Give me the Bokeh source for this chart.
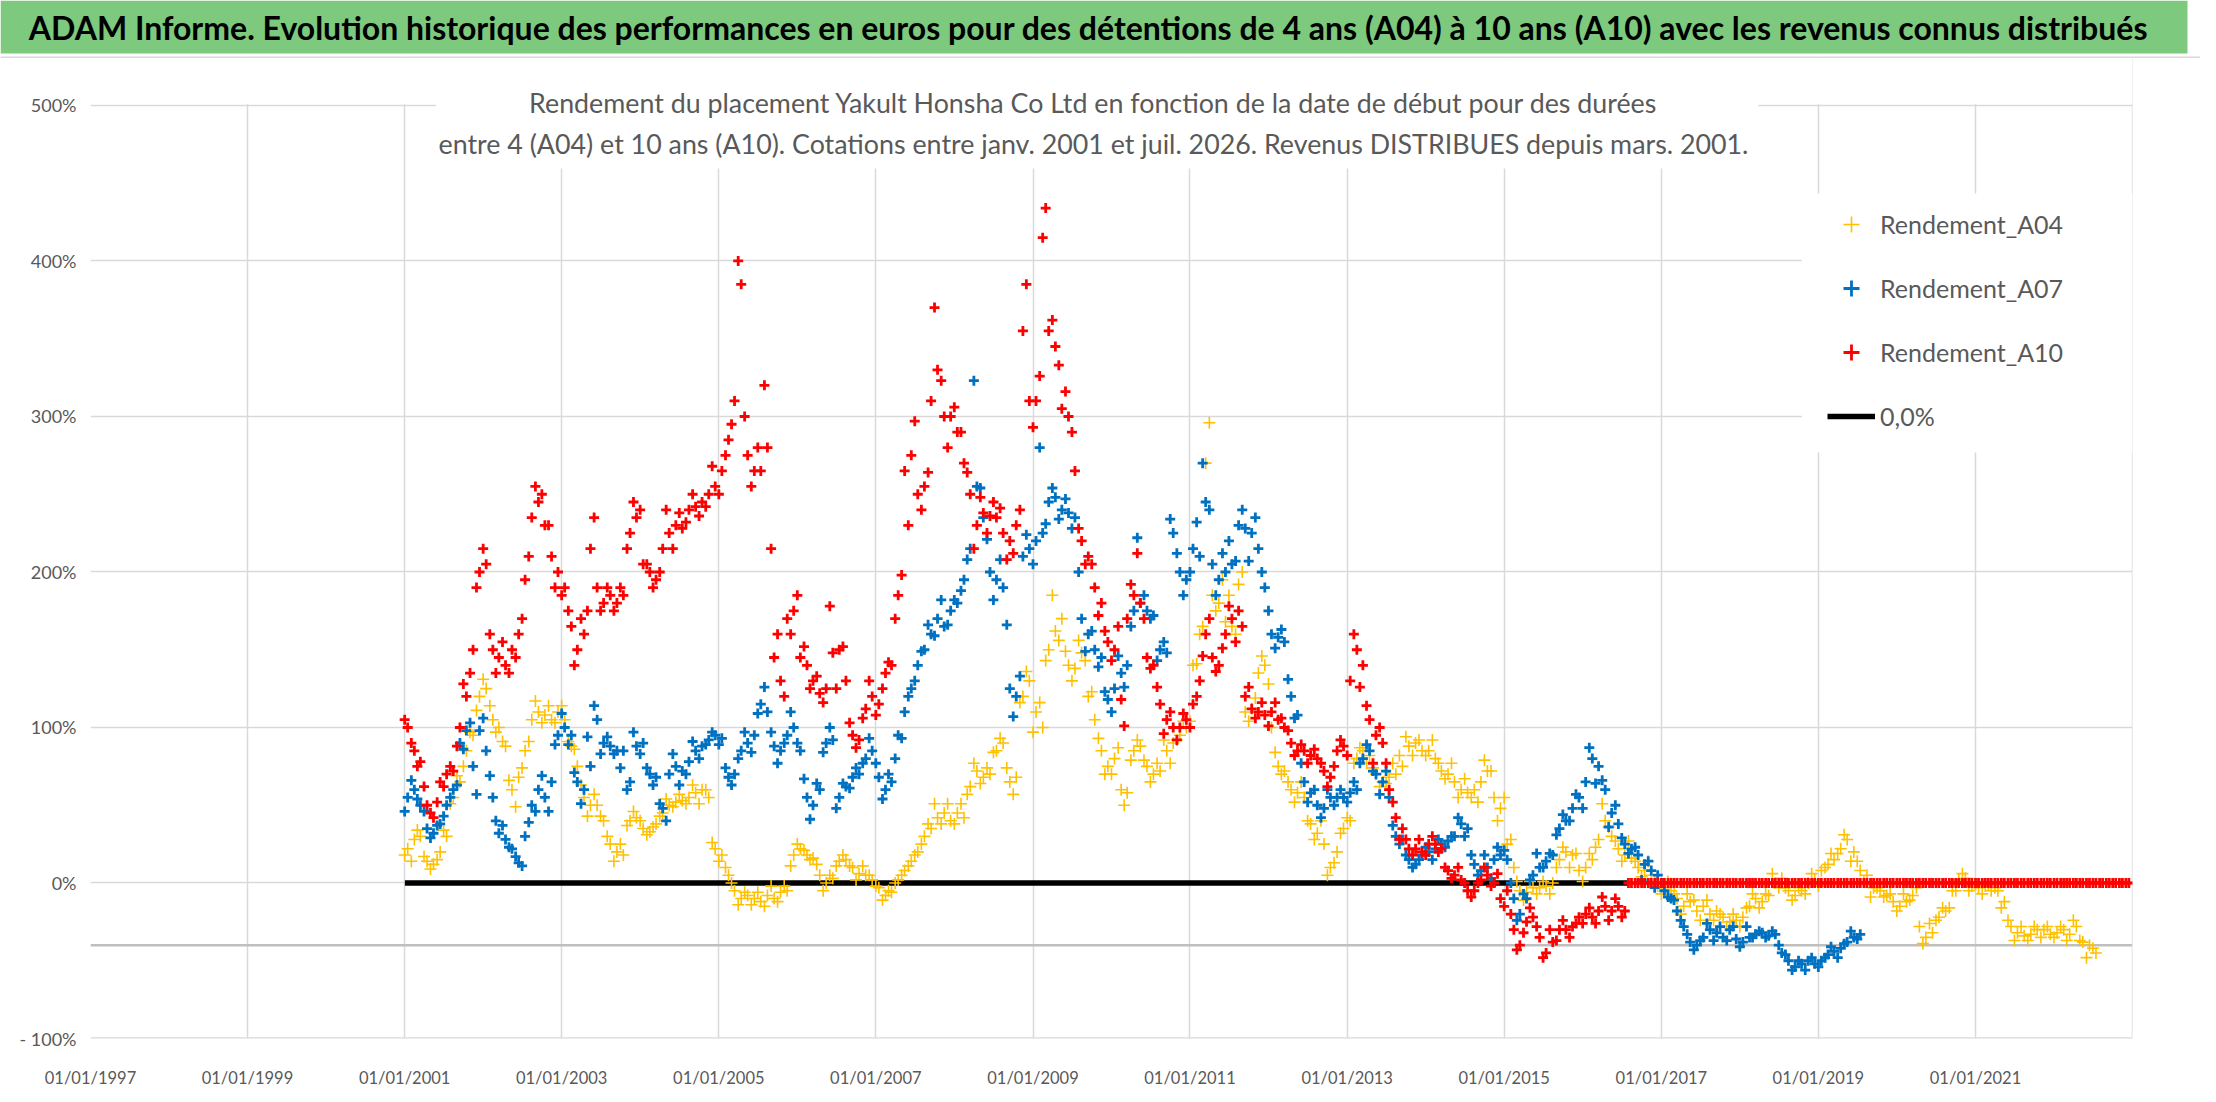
import pandas as pd
from bokeh.plotting import figure
from bokeh.models import (FixedTicker, DatetimeTickFormatter, CustomJSTickFormatter,
                          BoxAnnotation, Span, Label, Legend, LegendItem, Range1d,
                          ColumnDataSource)
from bokeh.layouts import column
from bokeh.embed import file_html
from bokeh.resources import INLINE

# ---------------- texts ----------------
TITLE = ("ADAM Informe. Evolution historique des performances en euros pour des "
         "détentions de 4 ans (A04) à 10 ans (A10) avec les revenus connus distribués")
SUBTITLE_1 = ("Rendement du placement Yakult Honsha Co Ltd en fonction de la date de "
              "début pour des durées")
SUBTITLE_2 = ("entre 4 (A04) et 10 ans (A10). Cotations entre janv. 2001 et juil. 2026. "
              "Revenus DISTRIBUES depuis mars. 2001.")
series_names = ["Rendement_A04", "Rendement_A07", "Rendement_A10"]
zero_label = "0,0%"

# ---------------- data (%) ----------------
# two readings per month: around the 15th (a..) and around the 1st (a.._b)
start_month = "2001-01-01"

a04 = [
    22, 28, 30, 14, 12, 20, 30, 55, 65, 85, 95, 120,          # 2001
    125, 105, 100, 88, 60, 68, 85, 105, 110, 108, 105, 110,   # 2002
    105, 88, 75, 55, 50, 50, 40, 25, 20, 18, 40, 42,          # 2003
    35, 33, 38, 45, 50, 52, 53, 55, 58, 60, 55, 22,           # 2004
    18, 5, -5, -10, -8, -10, -12, -8, -10, -6, -5, 18,        # 2005
    22, 18, 16, 5, 0, 3, 14, 15, 10, 6, 5, 2,                 # 2006
    -3, -8, -6, 2, 8, 14, 20, 30, 35, 42, 45, 40,             # 2007
    45, 42, 62, 72, 68, 70, 85, 90, 65, 68, 120, 130,         # 2008
    110, 100, 150, 162, 170, 140, 138, 148, 120, 105, 85, 75, # 2009
    80, 60, 58, 85, 88, 75, 70, 72, 85, 90, 95, 100,          # 2010
    140, 160, 270, 185, 180, 168, 165, 192, 110, 112, 135, 140,  # 2011
    100, 75, 72, 60, 58, 55, 38, 32, 25, 10, 20, 35,          # 2012
    40, 80, 85, 82, 70, 65, 68, 70, 75, 88, 90, 85,           # 2013
    85, 80, 72, 70, 65, 60, 58, 60, 65, 72, 55, 48,           # 2014
    25, 10, -5, -6, -3, -3, -2, 0, 15, 20, 18, 8,             # 2015
    10, 15, 28, 40, 30, 22, 18, 16, 10, 8, 5, -2,             # 2016
    -3, -5, -10, -15, -12, -18, -15, -20, -18, -22, -25, -24, # 2017
    -22, -15, -10, -12, -8, 0, 3, -5, -8, -5, 0, 2,           # 2018
    8, 12, 15, 22, 28, 20, 8, 5, -3, -5, -8, -12,             # 2019
    -15, -12, -8, -28, -35, -32, -22, -18, -5, 2, 3, -2,      # 2020
    -3, -2, -5, -5, -12, -28, -32, -34, -33, -30, -30, -33,   # 2021
    -32, -30, -33, -28, -38, -40, -45,                        # 2022
]
a04_b = [
    18, 14, 34, 17, 9, 15, 34, 51, 69, 75, 97, 111,           # 2001
    131, 114, 97, 91, 66, 49, 74, 91, 117, 103, 114, 103,     # 2002
    114, 91, 86, 63, 43, 57, 43, 30, 14, 25, 37, 46,          # 2003
    40, 31, 36, 43, 54, 49, 57, 51, 63, 51, 60, 26,           # 2004
    14, 10, 0, -14, -6, -14, -6, -15, -2, -12, -2, 11,        # 2005
    25, 21, 15, 12, -5, 5, 11, 18, 11, 2, 11, 5,              # 2006
    -2, -11, -5, 0, 5, 11, 18, 25, 38, 51, 38, 51,            # 2007
    38, 51, 57, 77, 64, 74, 84, 93, 74, 57, 116, 136,         # 2008
    97, 116, 143, 185, 156, 149, 130, 156, 143, 123, 93, 70,  # 2009
    70, 87, 50, 79, 92, 79, 65, 77, 92, 77, 92, 104,          # 2010
    104, 141, 165, 296, 175, 195, 185, 160, 200, 104, 119, 146,  # 2011
    128, 84, 70, 65, 52, 65, 40, 28, 40, 5, 13, 32,           # 2012
    42, 77, 87, 77, 74, 62, 64, 77, 82, 94, 82, 92,           # 2013
    82, 92, 77, 67, 77, 55, 67, 55, 52, 79, 72, 40,           # 2014
    55, 28, 1, -11, 1, -7, 1, -7, 10, 23, 10, 19,             # 2015
    1, 19, 23, 51, 36, 27, 14, 27, 14, 4, 14, 1,              # 2016
    -7, 1, -7, -20, -7, -11, -24, -11, -24, -20, -28, -20,    # 2017
    -28, -16, -7, -16, -7, 6, -3, -3, -11, -3, -7, 6,         # 2018
    -2, 10, 19, 19, 31, 14, 14, 1, -9, -3, -9, -7,            # 2019
    -18, -7, -11, -3, -39, -26, -24, -16, -16, -5, 6, -5,     # 2020
    -1, -7, -1, -3, -16, -24, -37, -28, -37, -28, -35, -28,   # 2021
    -35, -28, -37, -24, -37, -48, -42,                        # 2022
]

a07 = [
    55, 60, 50, 35, 32, 38, 50, 60, 90, 98, 75, 98,           # 2001
    85, 55, 32, 28, 22, 13, 30, 50, 60, 55, 65, 95,           # 2002
    100, 95, 65, 60, 75, 105, 90, 88, 85, 85, 65, 88,         # 2003
    90, 70, 68, 48, 70, 75, 72, 78, 85, 88, 92, 95,           # 2004
    93, 68, 70, 85, 90, 95, 115, 110, 88, 85, 95, 100,        # 2005
    85, 55, 50, 60, 90, 92, 55, 62, 68, 70, 80, 85,           # 2006
    68, 60, 65, 95, 110, 125, 140, 150, 160, 170, 165, 175,   # 2007
    180, 195, 215, 255, 235, 200, 195, 190, 125, 120, 210, 215,  # 2008
    220, 225, 245, 248, 240, 238, 235, 170, 160, 150, 145, 118,  # 2009
    125, 135, 140, 175, 180, 175, 172, 150, 148, 225, 200, 195,  # 2010
    215, 210, 245, 205, 195, 200, 205, 230, 228, 225, 215, 190,  # 2011
    160, 158, 155, 120, 108, 65, 58, 50, 48, 55, 55, 55,      # 2012
    58, 60, 80, 85, 70, 65, 55, 30, 28, 15, 12, 18,           # 2013
    20, 22, 25, 27, 30, 38, 35, 12, 8, 10, 15, 18,            # 2014
    15, -10, -20, -10, 5, 10, 14, 18, 35, 40, 48, 55,         # 2015
    65, 80, 75, 60, 45, 38, 25, 22, 18, 12, 8, 5,             # 2016
    -5, -10, -18, -28, -38, -40, -35, -30, -32, -35, -30, -36,  # 2017
    -38, -35, -33, -32, -34, -33, -45, -50, -54, -52, -50, -52, # 2018
    -50, -46, -44, -42, -38, -35, -33,                        # 2019
]
a07_b = [
    46, 66, 54, 46, 29, 37, 43, 55, 63, 86, 103, 57,          # 2001
    106, 69, 40, 37, 23, 17, 11, 39, 46, 69, 46, 89,          # 2002
    109, 89, 71, 51, 94, 114, 83, 94, 83, 74, 60, 97,         # 2003
    83, 74, 63, 51, 40, 83, 63, 70, 91, 80, 89, 97,           # 2004
    89, 74, 63, 80, 97, 84, 109, 126, 97, 77, 90, 110,        # 2005
    90, 67, 41, 64, 84, 100, 48, 64, 61, 74, 77, 93,          # 2006
    77, 54, 70, 80, 93, 120, 130, 149, 166, 159, 182, 166,    # 2007
    182, 188, 208, 323, 254, 221, 182, 208, 166, 107, 133, 224,  # 2008
    205, 280, 231, 254, 234, 247, 228, 200, 149, 162, 139, 123,  # 2009
    110, 146, 126, 165, 222, 185, 170, 143, 155, 234, 212, 185,  # 2010
    200, 232, 270, 240, 185, 212, 220, 207, 240, 207, 235, 200,  # 2011
    175, 151, 163, 131, 106, 77, 52, 60, 42, 60, 50, 60,      # 2012
    52, 65, 77, 89, 72, 57, 72, 37, 25, 18, 10, 15,           # 2013
    23, 15, 28, 23, 30, 42, 30, 18, 5, 18, 3, 23,             # 2014
    21, 0, -24, -7, 2, 19, 10, 19, 31, 44, 40, 57,            # 2015
    48, 87, 64, 66, 36, 50, 29, 19, 23, 2, 14, -3,            # 2016
    0, -9, -11, -24, -33, -43, -37, -26, -37, -28, -37, -28,  # 2017
    -41, -28, -35, -31, -35, -31, -40, -46, -56, -50, -56, -48, # 2018
    -54, -48, -41, -48, -39, -31, -36,                        # 2019
]

a10 = [
    100, 85, 78, 50, 42, 65, 70, 72, 100, 120, 150, 200,      # 2001
    205, 150, 145, 140, 150, 160, 195, 235, 245, 230, 210, 200,  # 2002
    190, 165, 150, 160, 215, 190, 180, 185, 180, 185, 225, 235,  # 2003
    205, 200, 195, 215, 225, 230, 228, 240, 242, 245, 250, 255,  # 2004
    265, 285, 310, 385, 275, 265, 265, 280, 145, 130, 170, 175,  # 2005
    145, 140, 130, 122, 125, 148, 150, 130, 95, 92, 112, 120,    # 2006
    115, 135, 140, 185, 265, 275, 250, 255, 310, 330, 300, 300,  # 2007
    290, 270, 250, 230, 238, 236, 235, 225, 220, 230, 355, 310,  # 2008
    310, 415, 355, 345, 305, 300, 265, 220, 210, 190, 180, 155,  # 2009
    150, 118, 170, 185, 180, 145, 140, 115, 105, 100, 100, 105,  # 2010
    115, 130, 160, 145, 140, 160, 170, 175, 120, 112, 110, 108,  # 2011
    110, 105, 100, 90, 85, 85, 82, 80, 72, 68, 85, 88,        # 2012
    130, 150, 140, 105, 95, 90, 60, 42, 35, 22, 22, 20,       # 2013
    25, 25, 22, 8, 5, 2, -5, -5, 2, 5, 0, -10,                # 2014
    -5, -30, -40, -25, -22, -35, -45, -38, -30, -30, -28, -22,  # 2015
    -20, -22, -18, -15, -18, -15, -18,                        # 2016 (to July)
    # values shown at 0 after the end of the 10-year window
    0, 0, 0, 0, 0,                                            # 2016 Aug-Dec
    0, 0, 0, 0, 0, 0, 0, 0, 0, 0, 0, 0,                       # 2017
    0, 0, 0, 0, 0, 0, 0, 0, 0, 0, 0, 0,                       # 2018
    0, 0, 0, 0, 0, 0, 0, 0, 0, 0, 0, 0,                       # 2019
    0, 0, 0, 0, 0, 0, 0, 0, 0, 0, 0, 0,                       # 2020
    0, 0, 0, 0, 0, 0, 0, 0, 0, 0, 0, 0,                       # 2021
    0, 0, 0, 0, 0, 0, 0, 0, 0, 0, 0, 0,                       # 2022
]
a10_b = [
    105, 90, 75, 62, 45, 52, 62, 75, 88, 128, 135, 190,       # 2001
    215, 160, 135, 155, 135, 145, 170, 210, 255, 250, 230, 190,  # 2002
    185, 175, 140, 170, 175, 235, 175, 190, 175, 190, 215, 245,  # 2003
    240, 205, 190, 200, 240, 215, 238, 232, 250, 236, 242, 268,  # 2004
    250, 275, 295, 400, 300, 255, 280, 320, 215, 160, 120, 160,  # 2005
    185, 152, 125, 133, 116, 178, 125, 152, 103, 87, 106, 130,   # 2006
    108, 125, 142, 170, 198, 230, 297, 240, 264, 370, 323, 280,  # 2007
    306, 290, 264, 215, 248, 225, 245, 241, 208, 212, 240, 385,  # 2008
    293, 326, 434, 362, 333, 316, 290, 228, 205, 205, 172, 162,  # 2009
    143, 165, 101, 192, 212, 170, 138, 126, 96, 110, 92, 109,    # 2010
    100, 120, 146, 170, 136, 151, 178, 155, 165, 126, 106, 116,  # 2011
    101, 116, 106, 98, 82, 89, 77, 86, 77, 62, 75, 92,        # 2012
    82, 160, 126, 114, 77, 100, 77, 52, 28, 28, 18, 28,       # 2013
    18, 30, 20, 10, 3, 10, 0, -9, 0, 10, -2, 6,               # 2014
    -15, -20, -43, -32, -16, -28, -48, -30, -37, -24, -35, -26,  # 2015
    -26, -16, -26, -9, -24, -10, -22,                         # 2016 (to July)
    0, 0, 0, 0, 0,                                            # 2016 Aug-Dec
    0, 0, 0, 0, 0, 0, 0, 0, 0, 0, 0, 0,                       # 2017
    0, 0, 0, 0, 0, 0, 0, 0, 0, 0, 0, 0,                       # 2018
    0, 0, 0, 0, 0, 0, 0, 0, 0, 0, 0, 0,                       # 2019
    0, 0, 0, 0, 0, 0, 0, 0, 0, 0, 0, 0,                       # 2020
    0, 0, 0, 0, 0, 0, 0, 0, 0, 0, 0, 0,                       # 2021
    0, 0, 0, 0, 0, 0, 0, 0, 0, 0, 0, 0,                       # 2022
]

zero_line_dates = ["2001-01-02", "2016-07-31"]
zero_line_values = [0.0, 0.0]

y_ticks = [-100, 0, 100, 200, 300, 400, 500]
x_tick_years = [1997, 1999, 2001, 2003, 2005, 2007, 2009, 2011, 2013, 2015, 2017, 2019, 2021]

colors = {"a04": "#FFC000", "a07": "#0070C0", "a10": "#FF0000"}
FONT = "Lato"
GREY_TXT = "#595959"


def ms(s):
    return pd.Timestamp(s).value / 1e6


def two_per_month(mid_values, start_values):
    months = pd.date_range(start_month, periods=len(mid_values), freq="MS")
    mids = months + pd.Timedelta(days=14)
    starts = pd.date_range(start_month, periods=len(start_values), freq="MS")
    return ColumnDataSource(dict(x=list(mids) + list(starts),
                                 y=list(mid_values) + list(start_values)))


def no_align(fig):
    try:
        fig.frame_align = False
    except Exception:
        pass


# ---------------- header (green title bar) ----------------
header = figure(width=2200, height=58, x_range=Range1d(0, 2200), y_range=Range1d(0, 58),
                toolbar_location=None, output_backend="svg", min_border=0,
                x_axis_location=None, y_axis_location=None)
no_align(header)
header.outline_line_color = None
header.xgrid.visible = False
header.ygrid.visible = False
header.add_layout(BoxAnnotation(left=0, right=2187, bottom=5, top=58,
                                fill_color="#7DC97D", fill_alpha=1, line_color=None))
header.add_layout(BoxAnnotation(left=0, right=2200, bottom=0.5, top=2,
                                fill_color="#D9D9D9", fill_alpha=1, line_color=None))
header.add_layout(Label(x=1088, y=31, x_units="screen", y_units="screen", text=TITLE,
                        text_align="center", text_baseline="middle", text_font=FONT,
                        text_font_style="bold", text_font_size="32px", text_color="black"))

# ---------------- main chart ----------------
p = figure(width=2200, height=1036, x_axis_type="datetime",
           x_range=Range1d(ms("1997-01-01"), ms("2023-01-01")),
           y_range=Range1d(-100, 530.2),
           toolbar_location=None, output_backend="svg",
           min_border_left=90, min_border_right=68, min_border_top=0, min_border_bottom=56)
no_align(p)
p.outline_line_color = None
p.background_fill_color = "white"

xticks = [ms(f"{y}-01-01") for y in x_tick_years]
p.xaxis.ticker = FixedTicker(ticks=xticks, minor_ticks=[])
p.xgrid.ticker = FixedTicker(ticks=xticks, minor_ticks=[])
fmt = "%d/%m/%Y"
p.xaxis.formatter = DatetimeTickFormatter(years=fmt, months=fmt, days=fmt, hours=fmt,
                                          minutes=fmt, seconds=fmt, milliseconds=fmt,
                                          microseconds=fmt, hourmin=fmt, minsec=fmt)
p.yaxis.ticker = FixedTicker(ticks=y_ticks, minor_ticks=[])
p.ygrid.ticker = FixedTicker(ticks=y_ticks, minor_ticks=[])
p.yaxis.formatter = CustomJSTickFormatter(
    code="return tick < 0 ? '- ' + Math.abs(tick) + '%' : tick + '%';")

for ax in (p.xaxis, p.yaxis):
    ax.axis_line_color = None
    ax.major_tick_line_color = None
    ax.minor_tick_line_color = None
    ax.major_tick_out = 0
    ax.major_tick_in = 0
    ax.major_label_text_font = FONT
    ax.major_label_text_color = GREY_TXT
p.xaxis.major_label_text_font_size = "16.5px"
p.yaxis.major_label_text_font_size = "18px"
p.xaxis.major_label_standoff = 29
p.yaxis.major_label_standoff = 14

for g in (p.xgrid, p.ygrid):
    g.grid_line_color = "#D9D9D9"
    g.grid_line_width = 1.5

# extra axis/edge lines
p.add_layout(Span(location=-40, dimension="width", line_color="#BFBFBF",
                  line_width=2.5, level="underlay"))
p.add_layout(Span(location=-100, dimension="width", line_color="#D9D9D9",
                  line_width=2.5, level="underlay"))
p.add_layout(Span(location=ms("2023-01-01"), dimension="height", line_color="#D9D9D9",
                  line_width=1.5, level="underlay"))

# data
r_zero = p.line(x=pd.to_datetime(zero_line_dates), y=zero_line_values,
                line_color="black", line_width=5.5)
r04 = p.scatter("x", "y", source=two_per_month(a04, a04_b), marker="cross", size=12,
                line_color=colors["a04"], line_width=1.6)
r07 = p.scatter("x", "y", source=two_per_month(a07, a07_b), marker="cross", size=10,
                line_color=colors["a07"], line_width=2.8)
r10 = p.scatter("x", "y", source=two_per_month(a10, a10_b), marker="cross", size=10,
                line_color=colors["a10"], line_width=2.8)

# white areas behind the chart title and legend
white = dict(fill_color="white", fill_alpha=1, line_color=None)
p.add_layout(BoxAnnotation(bottom=500.8, **white))
p.add_layout(BoxAnnotation(left=ms("2001-05-26"), right=ms("2018-03-28"), bottom=459.5, **white))
p.add_layout(BoxAnnotation(left=ms("2018-10-16"), bottom=276.8, top=443.4, **white))

# chart title (two lines)
for txt, yy in ((SUBTITLE_1, 936), (SUBTITLE_2, 895)):
    p.add_layout(Label(x=1003, y=yy, x_units="screen", y_units="screen", text=txt,
                       text_align="center", text_baseline="middle", text_font=FONT,
                       text_font_size="26.8px", text_color=GREY_TXT))

legend = Legend(items=[LegendItem(label=series_names[0], renderers=[r04]),
                       LegendItem(label=series_names[1], renderers=[r07]),
                       LegendItem(label=series_names[2], renderers=[r10]),
                       LegendItem(label=zero_label, renderers=[r_zero])],
                location=(1737, 602))
legend.label_text_font = FONT
legend.label_text_font_size = "25px"
legend.label_text_color = GREY_TXT
legend.glyph_width = 48
legend.glyph_height = 40
legend.label_height = 40
legend.spacing = 24
legend.padding = 12
legend.margin = 0
legend.label_standoff = 5
legend.border_line_color = None
legend.background_fill_alpha = 1
p.add_layout(legend, "center")

layout = column(header, p)
open("out.html", "w").write(file_html(layout, INLINE))
